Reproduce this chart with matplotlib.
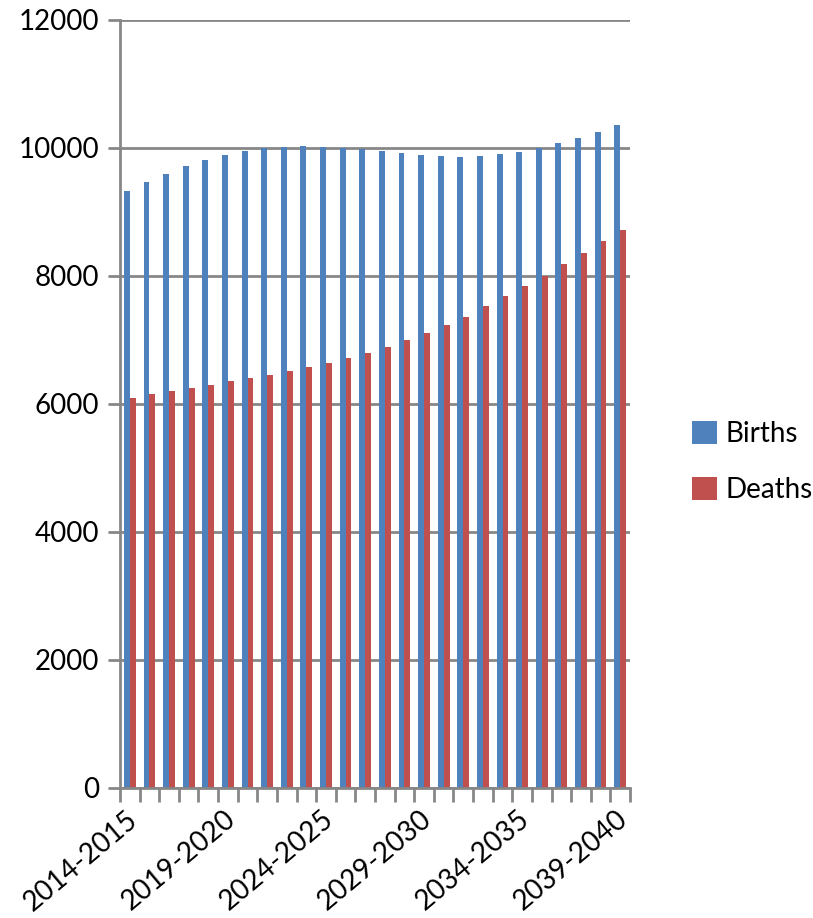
import matplotlib
matplotlib.use("Agg")
import matplotlib.pyplot as plt
import matplotlib.transforms as mtransforms
import numpy as np

periods = [f"{y}-{y + 1}" for y in range(2014, 2040)]
births = [9328, 9474, 9600, 9714, 9807, 9891, 9953, 10000, 10016, 10031,
          10016, 10005, 9979, 9948, 9917, 9896, 9880, 9865, 9880, 9901,
          9943, 10005, 10073, 10156, 10245, 10354]
deaths = [6099, 6157, 6204, 6256, 6303, 6355, 6407, 6454, 6517, 6574,
          6642, 6715, 6803, 6898, 6996, 7112, 7242, 7367, 7524, 7680,
          7842, 8005, 8194, 8366, 8543, 8720]

plt.rcParams["font.family"] = ["Lato", "DejaVu Sans"]
GRID = "#878787"
FS = 20

fig = plt.figure(figsize=(8.13, 9.18), dpi=100)
ax = fig.add_axes([120 / 813, 1 - 788 / 918, 510 / 813, 768 / 918])

x = np.arange(len(periods))
w = 0.3
ax.bar(x - w / 2, births, w, color="#4F81BD", label="Births")
ax.bar(x + w / 2, deaths, w, color="#C0504D", label="Deaths")

ax.set_xlim(-0.5, len(periods) - 0.5)
ax.set_ylim(0, 12000)
ax.set_yticks(np.arange(0, 12001, 2000))
ax.yaxis.grid(True, color=GRID, linewidth=2)
ax.set_axisbelow(True)

for s in ["top", "right"]:
    ax.spines[s].set_visible(False)
for s in ["left", "bottom"]:
    ax.spines[s].set_color(GRID)
    ax.spines[s].set_linewidth(2)

ax.tick_params(axis="y", length=9, width=2, color=GRID, labelsize=FS, pad=6)
ax.set_xticks(np.arange(-0.5, len(periods)), minor=True)
ax.tick_params(axis="x", which="minor", length=10, width=2, color=GRID)
ax.set_xticks(x[::5])
ax.set_xticklabels(periods[::5], rotation=40, ha="right",
                   rotation_mode="anchor", fontsize=FS)
ax.tick_params(axis="x", which="major", length=0, pad=13)
shift = mtransforms.ScaledTranslation(-4 / 100, 0, fig.dpi_scale_trans)
for lbl in ax.get_xticklabels():
    lbl.set_transform(lbl.get_transform() + shift)

fig.legend(loc="center left", bbox_to_anchor=(692 / 813, 1 - 462 / 918),
           frameon=False, fontsize=FS, borderpad=0, borderaxespad=0,
           handlelength=0.9, handleheight=0.9, handletextpad=0.3,
           labelspacing=1.1)

fig.savefig("out.png", dpi=100)
